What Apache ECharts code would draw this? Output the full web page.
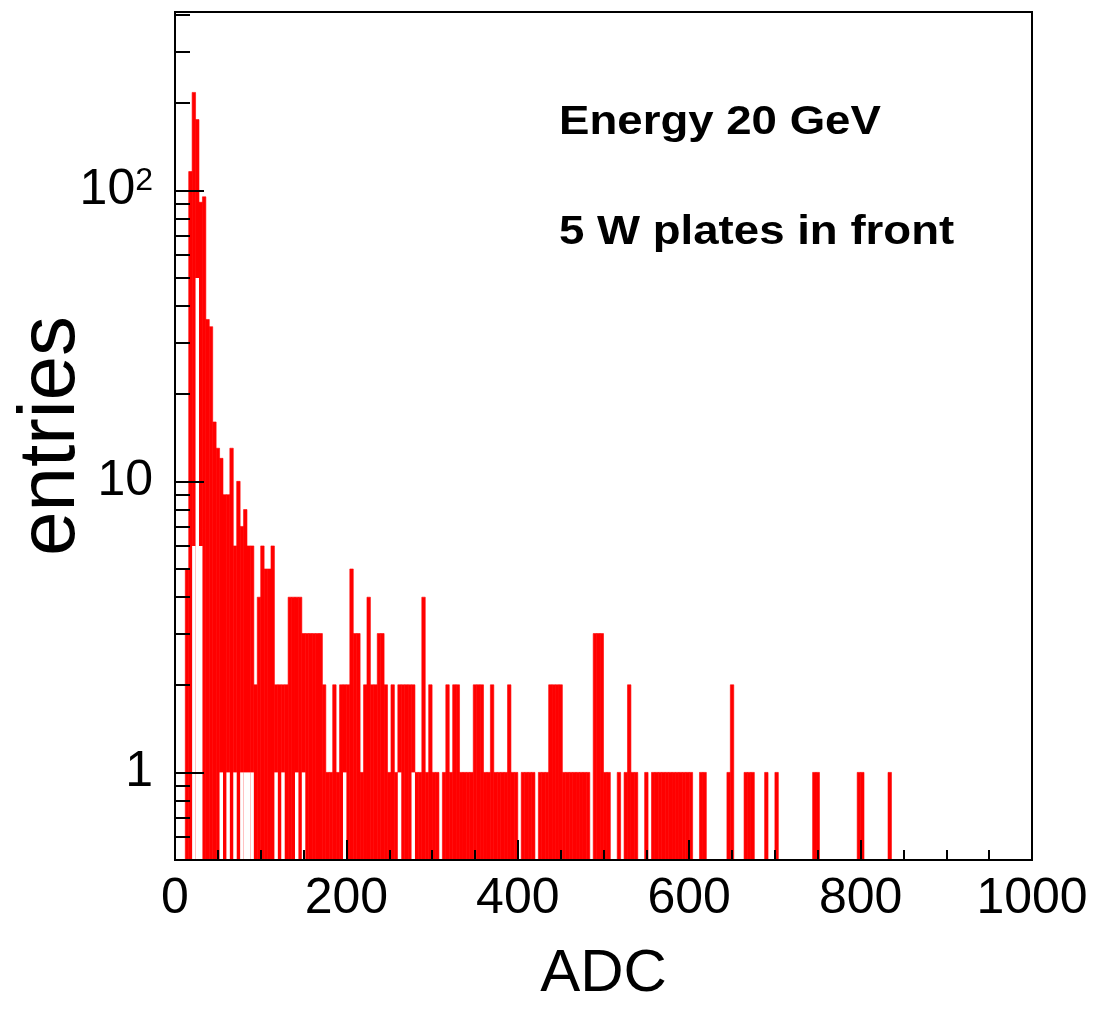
<!DOCTYPE html>
<html>
<head>
<meta charset="utf-8">
<script src="https://cdn.jsdelivr.net/npm/echarts@6/dist/echarts.min.js"></script>
<style>
  html, body { margin: 0; padding: 0; background: #fff; }
  #chart { width: 1101px; height: 1009px; }
</style>
</head>
<body>
<div id="chart"></div>
<script>
// ADC spectrum, 4 ADC counts per bin, 250 bins from 0 to 1000
var binWidth = 4;
var counts = [
  0, 0, 0, 5, 116, 217, 175, 91, 95, 36,
  34, 16, 13, 12, 9, 9, 13, 6, 10, 7,
  8, 6, 6, 2, 4, 6, 5, 5, 6, 2,
  2, 2, 2, 4, 4, 4, 4, 3, 3, 3,
  3, 3, 3, 2, 1, 1, 2, 1, 2, 2,
  2, 5, 3, 3, 1, 2, 4, 2, 2, 3,
  3, 2, 1, 2, 1, 2, 2, 2, 2, 2,
  1, 1, 4, 1, 2, 1, 1, 0, 1, 2,
  1, 2, 2, 1, 1, 1, 1, 2, 2, 2,
  1, 1, 2, 1, 1, 1, 1, 2, 1, 1,
  0, 1, 1, 1, 1, 0, 1, 1, 1, 2,
  2, 2, 2, 1, 1, 1, 1, 1, 1, 1,
  1, 0, 3, 3, 3, 1, 1, 0, 0, 1,
  0, 1, 2, 1, 1, 0, 0, 1, 0, 1,
  1, 1, 1, 1, 1, 1, 1, 1, 1, 1,
  1, 0, 0, 1, 1, 0, 0, 0, 0, 0,
  0, 1, 2, 0, 0, 0, 1, 1, 1, 0,
  0, 0, 1, 0, 0, 1, 0, 0, 0, 0,
  0, 0, 0, 0, 0, 0, 1, 1, 0, 0,
  0, 0, 0, 0, 0, 0, 0, 0, 0, 1,
  1, 0, 0, 0, 0, 0, 0, 0, 1, 0
];
// second histogram, drawn in white on top of the first one
var whiteCounts = [
  0, 0, 0, 0, 0, 6, 50, 6, 0, 0,
  0, 0, 0, 1, 0, 1, 0, 1, 0, 1,
  1, 1, 1, 0, 0, 0, 0, 0, 0, 1,
  0, 1, 0, 0, 0, 1, 0, 1, 0, 0,
  0, 0, 0, 0, 0, 0, 0, 0, 0, 1,
  0, 0, 0, 0, 0, 0, 0, 0, 0, 0,
  0, 0, 0, 0, 0, 1, 0, 0, 0, 1
];

var xRange = [0, 1000];
var yRange = [0.5, 410];
var yMajorTicks = [1, 10, 100];
var yMinorTicks = [0.6, 0.7, 0.8, 0.9, 2, 3, 4, 5, 6, 7, 8, 9,
  20, 30, 40, 50, 60, 70, 80, 90, 200, 300, 400];
var notes = ['Energy 20 GeV', '5 W plates in front'];

var font = '"Liberation Sans", Arial, Helvetica, sans-serif';

function toBins(values) {
  var out = [];
  for (var i = 0; i < values.length; i++) {
    out.push([i * binWidth, (i + 1) * binWidth, values[i]]);
  }
  return out;
}

// one filled rectangle per bin, from the bottom of the frame up to the content
function binRenderer(color, edge) {
  return function (params, api) {
    var n = api.value(2);
    if (!(n > 0)) return null;
    var cs = params.coordSys;
    var p0 = api.coord([api.value(0), n]);
    var p1 = api.coord([api.value(1), n]);
    var bottom = cs.y + cs.height;
    var shape = echarts.graphic.clipRectByRect(
      { x: p0[0], y: p0[1], width: p1[0] - p0[0], height: bottom - p0[1] },
      { x: cs.x, y: cs.y, width: cs.width, height: cs.height }
    );
    if (!shape) return null;
    return {
      type: 'rect',
      shape: shape,
      style: { fill: color, stroke: edge ? color : null, lineWidth: edge ? 0.6 : 0 }
    };
  };
}

var myChart = echarts.init(document.getElementById('chart'));

var tickLine = { color: '#000', width: 2 };

var option = {
  animation: false,
  backgroundColor: '#fff',
  grid: {
    left: 175,
    right: 69,
    top: 12,
    bottom: 149,
    show: true,
    z: 10,
    backgroundColor: 'transparent',
    borderColor: '#000',
    borderWidth: 2,
    outerBoundsMode: 'none'
  },
  xAxis: {
    type: 'value',
    min: xRange[0],
    max: xRange[1],
    interval: 200,
    z: 10,
    axisLine: { lineStyle: tickLine },
    axisTick: { inside: true, length: 20, lineStyle: tickLine },
    minorTick: { show: true, splitNumber: 4, length: 10, lineStyle: tickLine },
    splitLine: { show: false },
    axisLabel: {
      color: '#000', fontSize: 50, fontFamily: font, margin: 14, hideOverlap: false,
      formatter: function (v) { return String(v); }
    },
    name: 'ADC',
    nameLocation: 'middle',
    nameGap: 84,
    nameMoveOverlap: false,
    nameTextStyle: { color: '#000', fontSize: 60, fontFamily: font }
  },
  yAxis: [
    {
      type: 'log',
      logBase: 10,
      min: yRange[0],
      max: yRange[1],
      position: 'left',
      z: 10,
      axisLine: { show: true, lineStyle: tickLine },
      axisTick: { inside: true, length: 29, lineStyle: tickLine, customValues: yMajorTicks },
      splitLine: { show: false },
      axisLabel: {
        customValues: yMajorTicks,
        margin: 22,
        color: '#000',
        fontFamily: font,
        formatter: function (v) {
          if (v >= 100) return '{b|10}{s|2}';
          return '{b|' + Math.round(v) + '}';
        },
        rich: {
          b: { fontSize: 50, lineHeight: 50, fontFamily: font, color: '#000', verticalAlign: 'bottom' },
          s: { fontSize: 32, lineHeight: 32, fontFamily: font, color: '#000', verticalAlign: 'top' }
        }
      },
      name: 'entries',
      nameLocation: 'middle',
      nameRotate: 90,
      nameGap: 83,
      nameMoveOverlap: false,
      nameTextStyle: { color: '#000', fontSize: 80, fontFamily: font }
    },
    {
      // minor ticks of the log axis (2..9 of each decade)
      type: 'log',
      logBase: 10,
      min: yRange[0],
      max: yRange[1],
      position: 'left',
      z: 10,
      axisLine: { show: false },
      axisTick: { inside: true, length: 15, lineStyle: tickLine, customValues: yMinorTicks },
      axisLabel: { show: false },
      splitLine: { show: false }
    }
  ],
  graphic: [
    { type: 'text', x: 559, y: 123, scaleX: 1.14, z: 20,
      style: { text: notes[0], font: 'bold 40px ' + font, fill: '#000', align: 'left', verticalAlign: 'middle' } },
    { type: 'text', x: 559, y: 233, scaleX: 1.14, z: 20,
      style: { text: notes[1], font: 'bold 40px ' + font, fill: '#000', align: 'left', verticalAlign: 'middle' } }
  ],
  series: [
    {
      name: 'all',
      type: 'custom',
      xAxisIndex: 0,
      yAxisIndex: 0,
      encode: { x: [0, 1], y: 2 },
      renderItem: binRenderer('#ff0000', true),
      data: toBins(counts),
      z: 2
    },
    {
      name: 'white',
      type: 'custom',
      xAxisIndex: 0,
      yAxisIndex: 0,
      encode: { x: [0, 1], y: 2 },
      renderItem: binRenderer('#ffffff', false),
      data: toBins(whiteCounts),
      z: 3
    }
  ]
};

myChart.setOption(option);

window.addEventListener('resize', function () {
  myChart.resize();
});
</script>
</body>
</html>
